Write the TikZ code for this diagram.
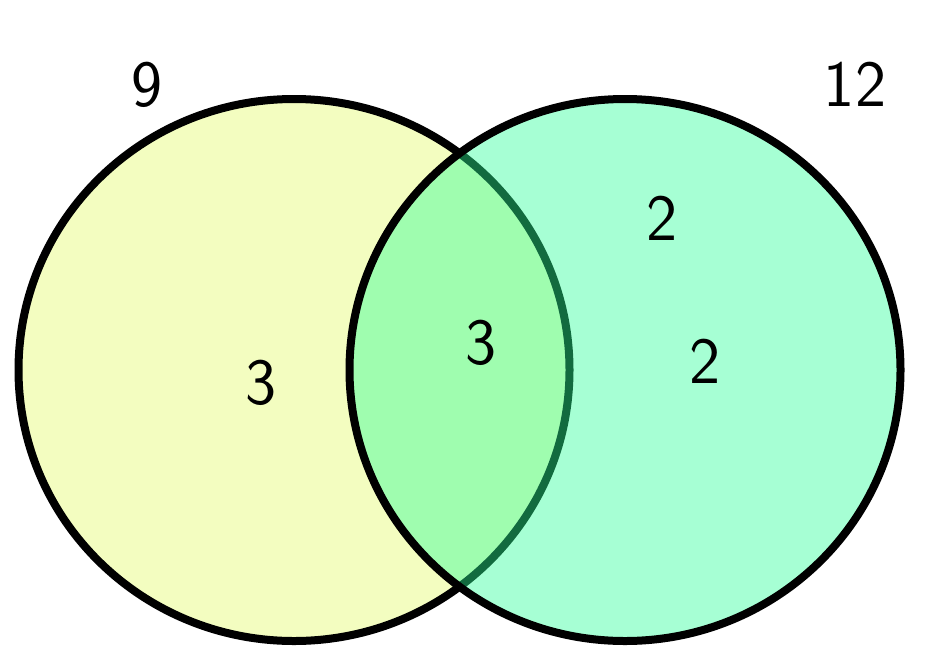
\documentclass[tikz,border=0pt]{standalone}
\usepackage{xcolor}
\usepackage{tikz}
\usetikzlibrary{shapes.geometric}
\definecolor{setyellow}{RGB}{243,253,192}
\definecolor{setgreen}{RGB}{43,255,152}
\tikzset{
  setbox/.style={ellipse, draw=black, line width=8pt, inner sep=0pt,
                 minimum width=551pt, minimum height=542pt},
  num/.style={font=\sffamily\fontsize{66}{70}\selectfont, inner sep=0pt}
}
\begin{document}
\begin{tikzpicture}[x=1pt,y=-1pt]
        \useasboundingbox (0,0) rectangle (947,662);
        \node[setbox, fill=setyellow] (setA) at (294,370) {};
        \node[setbox, fill=setgreen, fill opacity=0.42] (setB) at (625,370) {};
        \node[num] (totA) at (147,85) {9};
        \node[num] (totB) at (855,84) {12};
        \node[num] (onlyA) at (261,383) {3};
        \node[num] (both) at (481,343) {3};
        \node[num] (onlyBa) at (662,218) {2};
        \node[num] (onlyBb) at (705,361) {2};
      \end{tikzpicture}
\end{document}
